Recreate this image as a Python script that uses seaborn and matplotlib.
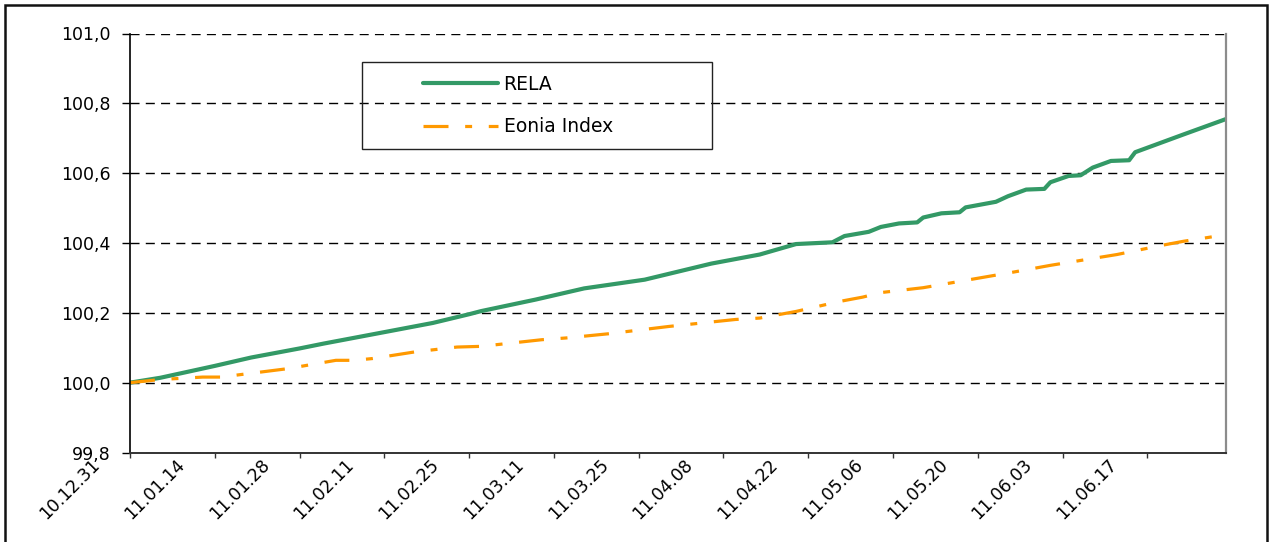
import pandas as pd
import seaborn as sns
import matplotlib.pyplot as plt
import matplotlib.dates as mdates
from matplotlib.patches import Rectangle
from matplotlib.ticker import FuncFormatter
from matplotlib.transforms import ScaledTranslation

# RELA values
rela_dates = ['2010-12-31', '2011-01-05', '2011-01-14', '2011-01-20', '2011-01-28',
              '2011-02-01', '2011-02-12', '2011-02-19', '2011-02-25', '2011-02-27',
              '2011-03-08', '2011-03-16', '2011-03-26', '2011-04-06', '2011-04-14',
              '2011-04-20', '2011-04-26', '2011-04-28', '2011-05-02', '2011-05-04',
              '2011-05-07', '2011-05-10', '2011-05-11', '2011-05-14', '2011-05-17',
              '2011-05-18', '2011-05-23', '2011-05-25', '2011-05-28', '2011-05-31',
              '2011-06-01', '2011-06-04', '2011-06-06', '2011-06-08', '2011-06-11',
              '2011-06-14', '2011-06-15', '2011-06-23', '2011-06-30']
rela_values = [100.000, 100.014, 100.048, 100.072, 100.098,
               100.112, 100.148, 100.171, 100.196, 100.205,
               100.238, 100.270, 100.295, 100.341, 100.367,
               100.397, 100.402, 100.420, 100.432, 100.446,
               100.456, 100.459, 100.473, 100.485, 100.488,
               100.502, 100.518, 100.534, 100.553, 100.555,
               100.574, 100.592, 100.594, 100.616, 100.635,
               100.637, 100.660, 100.711, 100.755]

# Eonia Index values
eonia_dates = ['2010-12-31', '2011-01-05', '2011-01-12', '2011-01-15', '2011-01-26',
               '2011-02-03', '2011-02-06', '2011-02-09', '2011-02-16', '2011-02-23',
               '2011-02-27', '2011-03-09', '2011-03-13', '2011-03-20', '2011-03-30',
               '2011-04-10', '2011-04-14', '2011-04-20', '2011-04-27', '2011-05-01',
               '2011-05-04', '2011-05-11', '2011-05-18', '2011-05-22', '2011-05-26',
               '2011-06-01', '2011-06-12', '2011-06-19', '2011-06-23', '2011-06-26',
               '2011-06-30']
eonia_values = [100.000, 100.009, 100.016, 100.016, 100.040,
                100.064, 100.064, 100.069, 100.088, 100.102,
                100.104, 100.123, 100.128, 100.140, 100.161,
                100.181, 100.185, 100.204, 100.232, 100.245,
                100.258, 100.272, 100.293, 100.305, 100.317,
                100.336, 100.367, 100.392, 100.405, 100.413,
                100.424]

y_ticks = [99.8, 100.0, 100.2, 100.4, 100.6, 100.8, 101.0]
tick_start = '2010-12-31'
x_end = '2011-06-30'

rela = pd.DataFrame({'date': pd.to_datetime(rela_dates), 'value': rela_values})
eonia = pd.DataFrame({'date': pd.to_datetime(eonia_dates), 'value': eonia_values})

sns.set_style('white')
plt.rcParams['font.family'] = ['DejaVu Sans']
plt.rcParams['lines.scale_dashes'] = False
plt.rcParams['text.color'] = 'black'
plt.rcParams['xtick.labelcolor'] = 'black'
plt.rcParams['ytick.labelcolor'] = 'black'

W, H = 1270, 542
fig = plt.figure(figsize=(W / 100, H / 100), dpi=100)
ax = fig.add_axes([130 / W, 1 - 452.5 / H, (1226 - 130) / W, (452.5 - 33.5) / H])

sns.lineplot(data=rela, x='date', y='value', color='#339966', linewidth=3,
             label='RELA', ax=ax)
sns.lineplot(data=eonia, x='date', y='value', color='#FF9900', linewidth=2.3,
             linestyle=(0, (18, 12, 5, 12)), label='Eonia Index', ax=ax)

# axes
ax.set_xlim(pd.Timestamp(tick_start), pd.Timestamp(x_end))
ax.set_ylim(y_ticks[0], y_ticks[-1])
ax.set_yticks(y_ticks)
ax.yaxis.set_major_formatter(FuncFormatter(lambda v, p: f'{v:.1f}'.replace('.', ',')))
ax.set_xticks(pd.date_range(tick_start, periods=13, freq='14D'))
ax.xaxis.set_major_formatter(mdates.DateFormatter('%y.%m.%d'))
ax.set_xlabel('')
ax.set_ylabel('')

ax.yaxis.grid(True, color='black', linestyle=(0, (6.5, 4.5)), linewidth=1)
ax.xaxis.grid(False)

ax.spines['top'].set_visible(False)
ax.spines['right'].set_color('#8c8c8c')
ax.spines['right'].set_linewidth(1.6)
ax.spines['left'].set_color('black')
ax.spines['bottom'].set_color('#333333')
ax.spines['left'].set_linewidth(1.2)
ax.spines['bottom'].set_linewidth(1.4)

ax.tick_params(axis='y', direction='out', length=5.8, width=1, color='black',
               pad=8, labelsize=12.5, labelcolor='black', left=True)
ax.tick_params(axis='x', direction='out', length=3.8, width=1, color='#333333',
               pad=3, labelsize=12.5, labelcolor='black', bottom=True)
for lab in ax.get_xticklabels():
    lab.set_rotation(45)
    lab.set_ha('right')
    lab.set_va('center')
    lab.set_rotation_mode('anchor')
    lab.set_transform(lab.get_transform() + ScaledTranslation(-33 / 100, 0, fig.dpi_scale_trans))

# legend with its own box
leg = ax.legend(loc='center left', bbox_to_anchor=(423 / W, 1 - 105.5 / H),
                bbox_transform=fig.transFigure, frameon=False, fontsize=13.5,
                borderaxespad=0, borderpad=0,
                handlelength=4.0, handletextpad=0.3, labelspacing=1.25)
for t in leg.get_texts():
    t.set_color('black')
fig.add_artist(Rectangle((361.7 / W, 1 - 149.3 / H), 350 / W, 87.6 / H,
                         transform=fig.transFigure, fill=False,
                         edgecolor='#222222', linewidth=1))

# outer frame
fig.add_artist(Rectangle((5 / W, -0.02), (1267 - 5) / W, 1.02 - 5 / H,
                         transform=fig.transFigure, fill=False,
                         edgecolor='#111111', linewidth=1.8))

fig.savefig('out.png', dpi=100)
